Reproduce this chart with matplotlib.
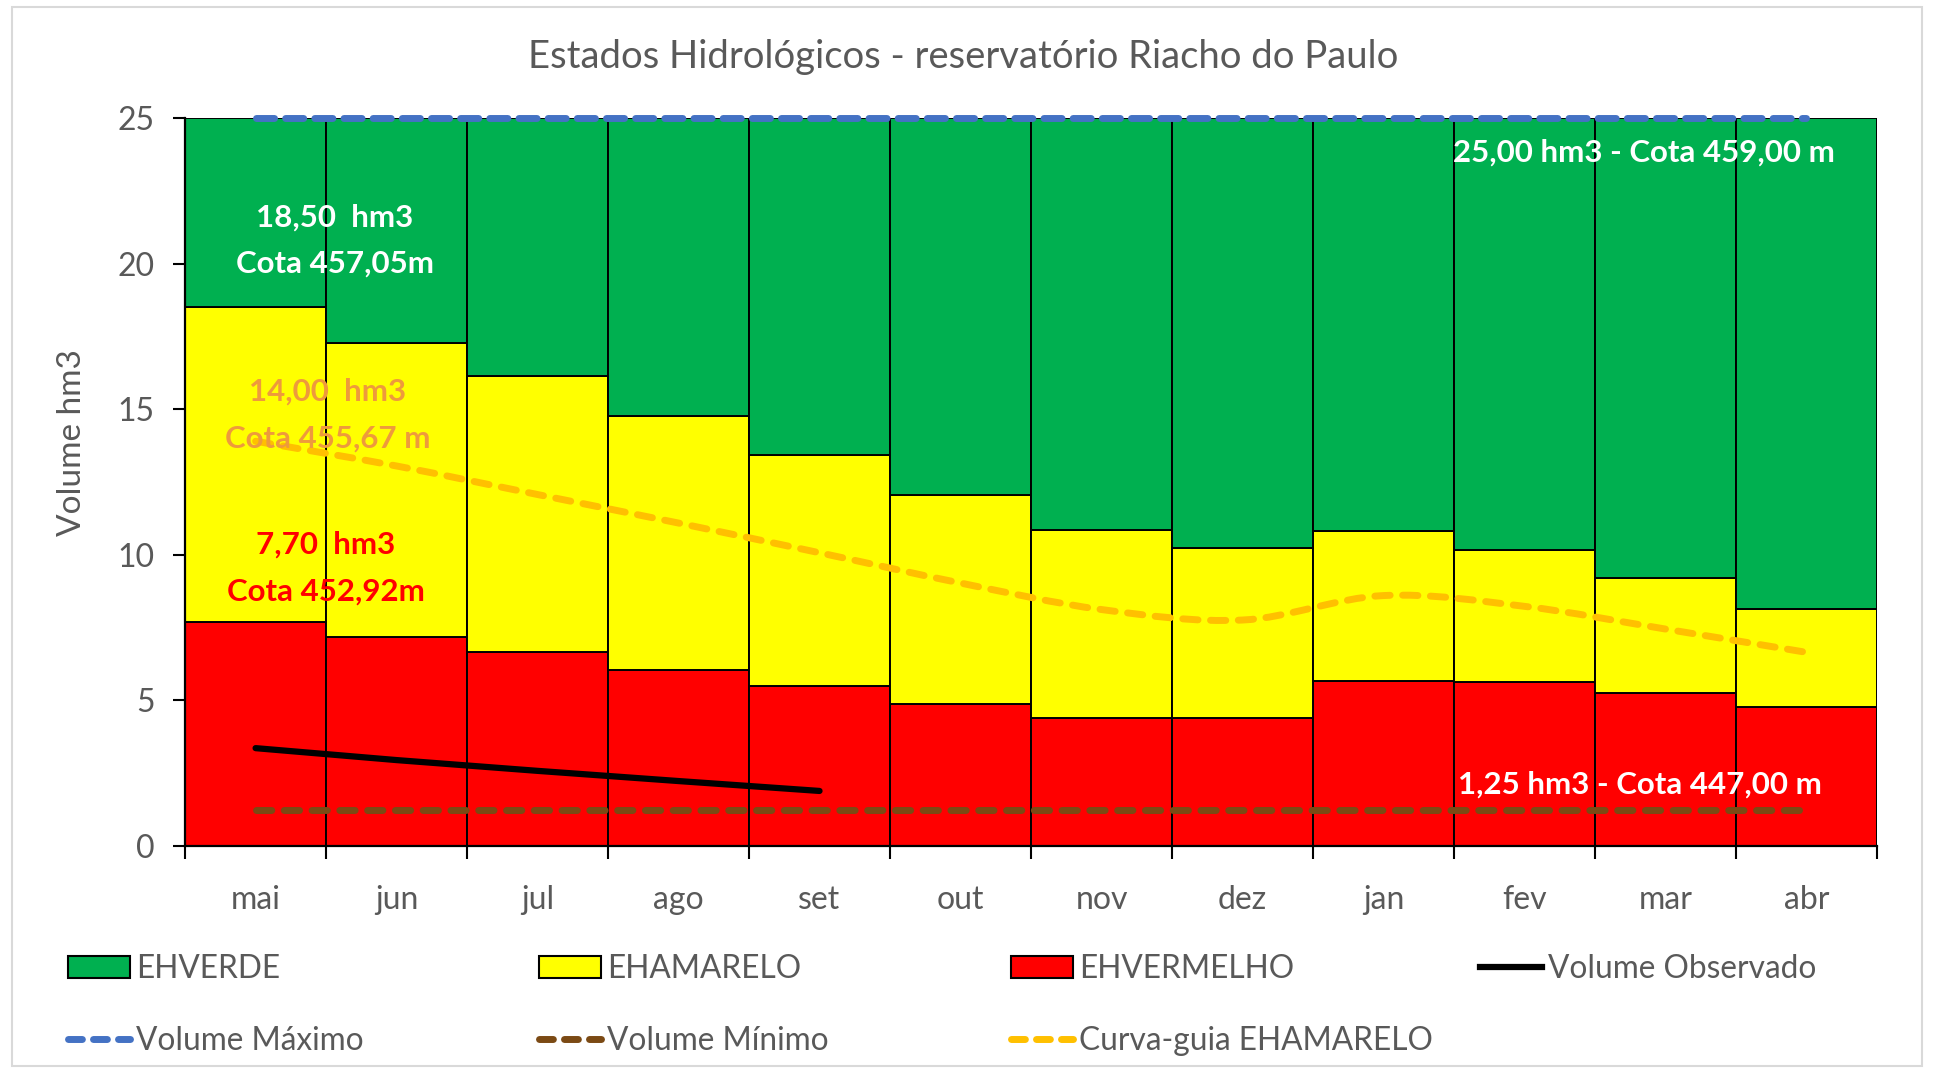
import numpy as np
import matplotlib
matplotlib.use("Agg")
import matplotlib.pyplot as plt
from matplotlib.path import Path
from matplotlib.patches import PathPatch, Patch, Rectangle
from matplotlib.lines import Line2D

plt.rcParams['font.family'] = ['Lato', 'DejaVu Sans']

# dados
meses = ['mai', 'jun', 'jul', 'ago', 'set', 'out', 'nov', 'dez', 'jan', 'fev', 'mar', 'abr']
lim_vermelho = [7.70, 7.19, 6.65, 6.04, 5.49, 4.87, 4.39, 4.39, 5.68, 5.62, 5.27, 4.79]
lim_amarelo = [18.50, 17.26, 16.13, 14.77, 13.42, 12.05, 10.86, 10.23, 10.81, 10.15, 9.20, 8.14]
vol_maximo = 25.0
vol_minimo = 1.25
curva_guia = [13.90, 13.05, 12.07, 11.09, 10.07, 9.03, 8.12, 7.76, 8.60, 8.23, 7.45, 6.65]
vol_observado = [3.36, 2.95, 2.58, 2.23, 1.89]

cinza = '#595959'
verde = '#00B050'
amarelo = '#FFFF00'
vermelho = '#FF0000'
azul = '#4472C4'
marrom = '#7B4A14'
laranja = '#FFC000'

x = np.arange(len(meses))
verm = np.array(lim_vermelho)
amar = np.array(lim_amarelo) - verm
verd = vol_maximo - np.array(lim_amarelo)

fig = plt.figure(figsize=(19.34, 10.71), dpi=100)
ax = fig.add_axes([0.0957, 0.2101, 0.8748, 0.6797])

ax.bar(x, verm, width=1.0, color=vermelho, edgecolor='black', linewidth=1.4)
ax.bar(x, amar, bottom=verm, width=1.0, color=amarelo, edgecolor='black', linewidth=1.4)
ax.bar(x, verd, bottom=lim_amarelo, width=1.0, color=verde, edgecolor='black', linewidth=1.4)

ax.plot([x[0], x[-1]], [vol_maximo, vol_maximo], color=azul, lw=5, ls=(0, (2.6, 1.6)),
        dash_capstyle='round', clip_on=False, zorder=5)
ax.plot([x[0], x[-1]], [vol_minimo, vol_minimo], color=marrom, lw=5, ls=(0, (2.2, 1.8)),
        dash_capstyle='round', zorder=5)
ax.plot(x[:len(vol_observado)], vol_observado, color='black', lw=4.5,
        solid_capstyle='round', zorder=6)

# curva-guia suavizada (bezier pelos pontos)
pts = np.column_stack([x, curva_guia]).astype(float)
verts = [pts[0]]
codes = [Path.MOVETO]
n = len(pts)
for i in range(n - 1):
    p0 = pts[max(i - 1, 0)]
    p1 = pts[i]
    p2 = pts[i + 1]
    p3 = pts[min(i + 2, n - 1)]
    verts += [p1 + (p2 - p0) / 6, p2 - (p3 - p1) / 6, p2]
    codes += [Path.CURVE4] * 3
ax.add_patch(PathPatch(Path(verts, codes), fill=False, edgecolor=laranja, lw=5,
                       linestyle=(0, (2.2, 1.8)), capstyle='round', zorder=5))

ax.set_xlim(-0.5, len(meses) - 0.5)
ax.set_ylim(0, 25)
ax.set_yticks(np.arange(0, 26, 5))
ax.set_xticks(np.arange(-0.5, len(meses), 1.0))
ax.set_xticklabels([])
ax.set_xticks(x, minor=True)
ax.set_xticklabels(meses, minor=True)
ax.tick_params(axis='x', which='major', length=9, width=1.5, direction='out', color='black')
ax.tick_params(axis='x', which='minor', length=0, pad=28, labelsize=23, labelcolor=cinza)
ax.tick_params(axis='y', length=9, width=1.5, direction='out', pad=13, labelsize=23,
               labelcolor=cinza)
for s in ['top', 'right']:
    ax.spines[s].set_visible(False)
for s in ['left', 'bottom']:
    ax.spines[s].set_linewidth(1.6)
    ax.spines[s].set_zorder(7)

ax.set_ylabel('Volume hm3', fontsize=24, color=cinza)
ax.yaxis.set_label_coords(-0.058, 0.554)

fig.text(0.498, 0.947, 'Estados Hidrológicos - reservatório Riacho do Paulo',
         ha='center', va='center', fontsize=27.5, color=cinza)

# rotulos
tb = dict(ha='center', va='center', fontsize=22.5, fontweight='bold', zorder=8)
ax.text(0.56, 21.57, '18,50  hm3', color='white', **tb)
ax.text(0.56, 19.99, 'Cota 457,05m', color='white', **tb)
ax.text(0.51, 15.62, '14,00  hm3', color='#EE9A3C', **tb)
ax.text(0.51, 14.00, 'Cota 455,67 m', color='#EE9A3C', **tb)
ax.text(0.50, 10.35, '7,70  hm3', color='#FF0000', **tb)
ax.text(0.50, 8.74, 'Cota 452,92m', color='#FF0000', **tb)
ax.text(9.85, 23.8, '25,00 hm3 - Cota 459,00 m', color='white', **tb)
ax.text(9.82, 2.10, '1,25 hm3 - Cota 447,00 m', color='white', **tb)

# legenda em 4 colunas
h_verde = Patch(facecolor=verde, edgecolor='black', lw=1.5)
h_amar = Patch(facecolor=amarelo, edgecolor='black', lw=1.5)
h_verm = Patch(facecolor=vermelho, edgecolor='black', lw=1.5)
h_obs = Line2D([], [], color='black', lw=4.5)
h_max = Line2D([], [], color=azul, lw=5, ls=(0, (2, 1.6)), dash_capstyle='round')
h_min = Line2D([], [], color=marrom, lw=5, ls=(0, (2, 1.6)), dash_capstyle='round')
h_cg = Line2D([], [], color=laranja, lw=5, ls=(0, (2, 1.6)), dash_capstyle='round')
colunas = [([h_verde, h_max], ['EHVERDE', 'Volume Máximo']),
           ([h_amar, h_min], ['EHAMARELO', 'Volume Mínimo']),
           ([h_verm, h_cg], ['EHVERMELHO', 'Curva-guia EHAMARELO']),
           ([h_obs], ['Volume Observado'])]
xs = [68, 539, 1011, 1480]
for (hs, ls), xp in zip(colunas, xs):
    leg = fig.legend(hs, ls, loc='upper left', bbox_to_anchor=(xp / 1934, 1 - 954 / 1071),
                     frameon=False, fontsize=22.8, labelcolor=cinza, borderpad=0,
                     borderaxespad=0, handlelength=1.95, handleheight=0.7,
                     handletextpad=0.2, labelspacing=1.32)

fig.patches.append(Rectangle((12 / 1934, 5 / 1071), 1910 / 1934, 1059 / 1071,
                             transform=fig.transFigure, fill=False,
                             edgecolor='#D9D9D9', lw=1.5))

fig.savefig('out.png', dpi=100)
